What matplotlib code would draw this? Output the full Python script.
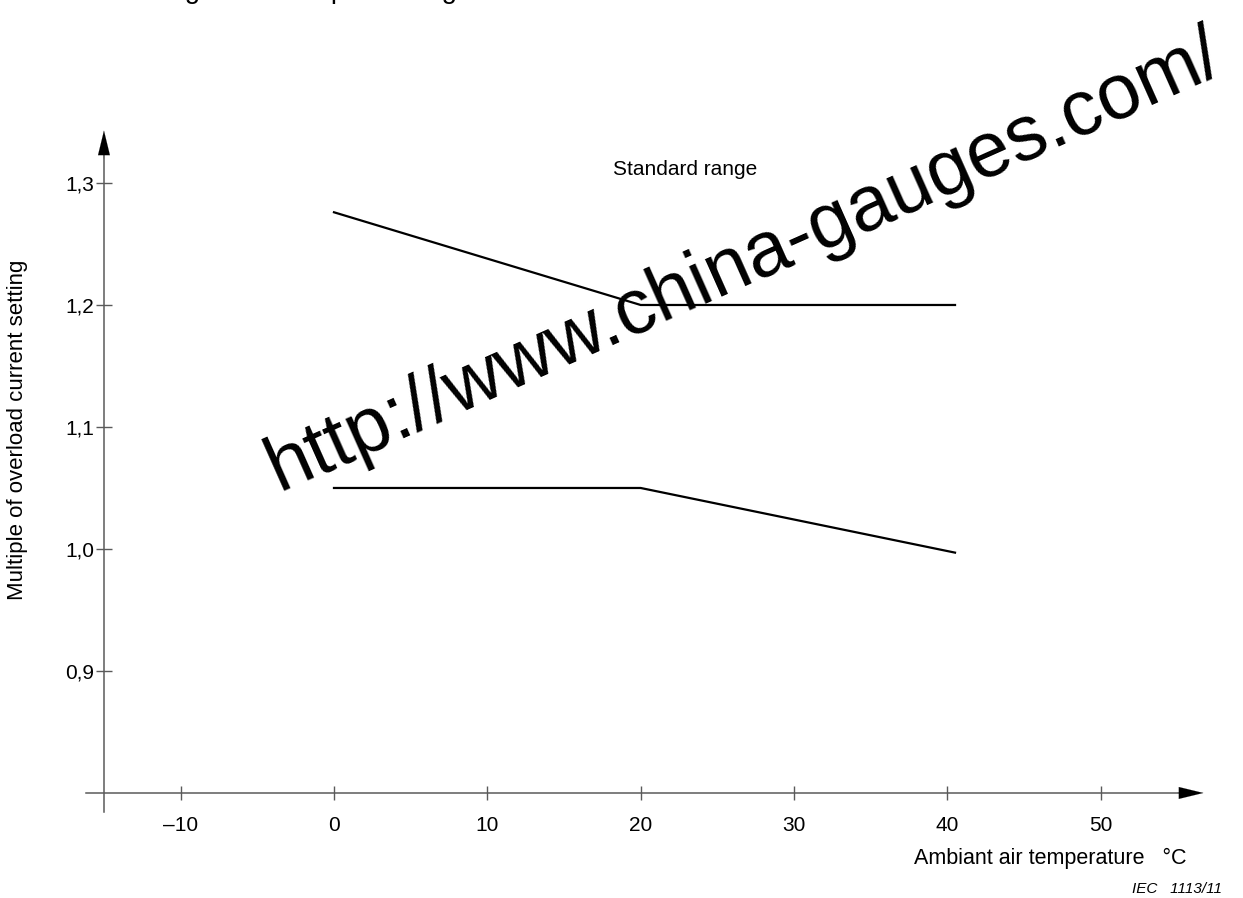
import matplotlib.pyplot as plt

plt.rcParams['font.family'] = ['Liberation Sans', 'DejaVu Sans']

# upper and lower limits of the standard range
temp_upper = [0, 20, 40.5]
mult_upper = [1.276, 1.2, 1.2]
temp_lower = [0, 20, 40.5]
mult_lower = [1.05, 1.05, 0.997]

x_ticks = [-10, 0, 10, 20, 30, 40, 50]
x_labels = ['\u201310', '0', '10', '20', '30', '40', '50']
y_ticks = [0.9, 1.0, 1.1, 1.2, 1.3]
y_labels = ['0,9', '1,0', '1,1', '1,2', '1,3']

axis_col = '#5a5a5a'

fig = plt.figure(figsize=(12.43, 8.98), dpi=100)
ax = fig.add_axes([0, 0, 1, 1])
ax.set_xlim(-21.78, 59.28)
ax.set_ylim(0.7139, 1.45)
ax.patch.set_visible(False)

ax.plot(temp_upper, mult_upper, color='black', lw=1.6, solid_joinstyle='miter')
ax.plot(temp_lower, mult_lower, color='black', lw=1.6, solid_joinstyle='miter')

# axes drawn as spines placed in data coordinates
ax.spines['top'].set_visible(False)
ax.spines['right'].set_visible(False)
ax.spines['left'].set_position(('data', -15))
ax.spines['bottom'].set_position(('data', 0.8))
ax.spines['left'].set_bounds(0.784, 1.33)
ax.spines['bottom'].set_bounds(-16.2, 55.5)
for s in ('left', 'bottom'):
    ax.spines[s].set_color(axis_col)
    ax.spines[s].set_linewidth(1.1)

arrow = dict(arrowstyle='-|>,head_length=0.7,head_width=0.17', color='black',
             lw=0.1, mutation_scale=25, shrinkA=0, shrinkB=0)
ax.annotate('', xy=(56.7, 0.8), xytext=(55, 0.8), arrowprops=arrow)
ax.annotate('', xy=(-15, 1.343), xytext=(-15, 1.32), arrowprops=arrow)

ax.set_xticks(x_ticks, x_labels)
ax.set_yticks(y_ticks, y_labels)
ax.tick_params(axis='x', direction='inout', length=9.5, width=1, color=axis_col,
               labelsize=15, pad=12)
ax.tick_params(axis='y', direction='inout', length=11.5, width=1, color=axis_col,
               labelsize=15, pad=1)

ax.text(22.9, 1.311, 'Standard range', fontsize=15, ha='center', va='center')

fig.text(18 / 1243, 1 - 430 / 898, 'Multiple of overload current setting',
         rotation=90, fontsize=16, ha='center', va='center')
fig.text(1186 / 1243, 1 - 858 / 898, 'Ambiant air temperature   \u00b0C',
         fontsize=15.5, ha='right', va='center')
fig.text(1222 / 1243, 1 - 889 / 898, 'IEC   1113/11', fontsize=11,
         style='italic', ha='right', va='center')
# cut-off sentence at the top edge, only its lowest pixels show
fig.text(80 / 1243, 1 + 1.5 / 898, 'according to the temperature given in 7.2.1.5.1',
         fontsize=20, ha='left', va='baseline', color='black')

# watermark
fig.text(745 / 1243, 1 - 262 / 898, 'http://www.china-gauges.com/',
         fontsize=56, rotation=24, rotation_mode='anchor',
         ha='center', va='center', color='black')

fig.savefig('out.png', dpi=100)
